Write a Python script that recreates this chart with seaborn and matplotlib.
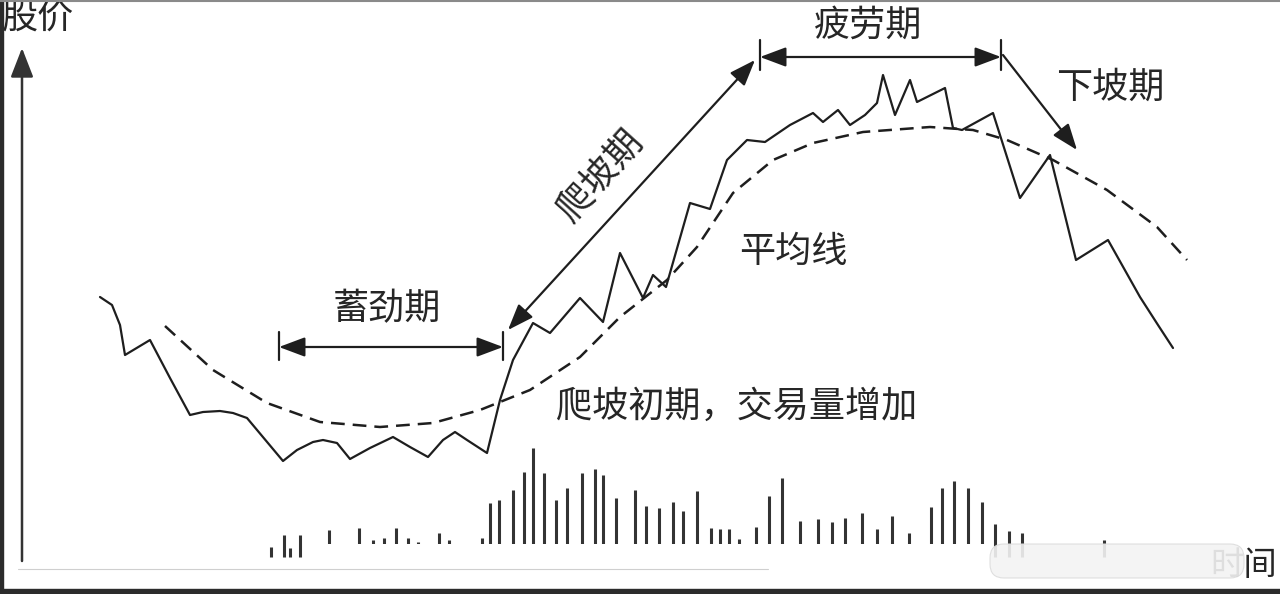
import matplotlib.pyplot as plt
import seaborn as sns
from matplotlib.patches import FancyBboxPatch

# price path (time, price)
time = [100, 112, 120, 125, 150, 170, 190, 203, 220, 233, 247, 283, 297, 313,
        323, 337, 350, 370, 393, 410, 428, 443, 455, 467, 487, 500, 513, 533,
        550, 580, 603, 620, 643, 653, 666, 690, 710, 727, 747, 765, 790, 813,
        823, 838, 850, 865, 877, 883, 895, 910, 917, 945, 953, 962, 993, 1020,
        1050, 1076, 1108, 1140, 1158, 1173]
price = [297, 289, 269, 239, 254, 216, 179, 182, 183, 181, 176, 133, 144, 152,
         154, 151, 135, 146, 157, 147, 137, 154, 162, 154, 141, 194, 234, 271,
         261, 296, 272, 341, 296, 319, 307, 391, 385, 434, 454, 452, 469, 481,
         472, 484, 469, 479, 491, 519, 479, 514, 492, 506, 466, 464, 481, 396,
         439, 334, 354, 297, 269, 246]

# moving average (dashed)
ma_time = [165, 213, 267, 320, 380, 433, 480, 530, 580, 620, 667, 697, 733,
           773, 813, 863, 930, 973, 1007, 1053, 1107, 1157, 1187]
ma_price = [268, 224, 191, 172, 167, 171, 184, 204, 237, 277, 314, 347, 401,
            434, 451, 462, 467, 464, 454, 434, 404, 367, 334]

# trading volume bars
vol_time = [271, 284, 290, 300, 329, 359, 373, 384, 396, 408, 418, 439, 449,
            482, 490, 499, 513, 524, 533, 544, 556, 567, 582, 595, 603, 616,
            635, 646, 659, 673, 683, 697, 711, 720, 729, 739, 756, 769, 782,
            800, 818, 832, 845, 862, 877, 892, 909, 931, 942, 954, 968, 982,
            995, 1009, 1022, 1104]
volume = [10, 22, 9, 22, 27, 29, 17, 19, 29, 19, 15, 24, 17,
          19, 54, 57, 67, 85, 109, 84, 57, 69, 84, 88, 82, 59,
          67, 51, 49, 55, 46, 66, 29, 28, 28, 18, 30, 61, 79,
          36, 38, 35, 39, 44, 28, 41, 24, 50, 69, 76, 69, 55,
          33, 26, 24, 17]
VOL_BASE = 37

INK = "#1e1e1e"
TXT = "#262626"
FS = 26

sns.set_theme(style="white")
plt.rcParams["font.family"] = ["Noto Sans CJK SC", "DejaVu Sans"]

fig = plt.figure(figsize=(12.8, 5.94), dpi=100)
ax = fig.add_axes([0, 0, 1, 1])
ax.set_xlim(0, 1280)
ax.set_ylim(0, 594)
ax.axis("off")

sns.lineplot(x=time, y=price, sort=False, estimator=None, color=INK,
             linewidth=1.6, ax=ax)
sns.lineplot(x=ma_time, y=ma_price, sort=False, estimator=None, color=INK,
             linewidth=1.8, ax=ax)
ax.lines[-1].set_linestyle((0, (5.5, 3.2)))

ax.vlines(vol_time, VOL_BASE, [VOL_BASE + v for v in volume], color="#333333",
          linewidth=2.2)

# white strip and watermark at the bottom
ax.add_patch(plt.Rectangle((305, 36), 680, 14.5, facecolor="white",
                           edgecolor="none", zorder=3))
ax.plot([18, 768], [25, 25], color="#cfcfcf", linewidth=0.8)
ax.text(1277, 29, "时间", fontsize=24, color=TXT, ha="right", va="center",
        zorder=2)
ax.add_patch(FancyBboxPatch((990, 16), 254, 34,
                            boxstyle="round,pad=0,rounding_size=14",
                            facecolor="#f3f3f3", edgecolor="#dcdcdc",
                            alpha=0.9, linewidth=0.8, zorder=4))

# price axis
ax.annotate("", xy=(22, 546), xytext=(22, 33),
            arrowprops=dict(arrowstyle="-|>,head_length=0.9,head_width=0.35",
                            mutation_scale=20, color="#333333", lw=1.8,
                            shrinkA=0, shrinkB=0))
ax.text(38, 576, "股价", fontsize=FS, color=TXT, ha="center", va="center")

arrow_kw = dict(arrowstyle="<|-|>,head_length=0.8,head_width=0.3",
                mutation_scale=20, color=INK, lw=1.6, shrinkA=0, shrinkB=0)

# 蓄劲期
ax.annotate("", xy=(279, 247), xytext=(503, 247), arrowprops=arrow_kw)
ax.plot([279, 279], [234, 262], color=INK, linewidth=1.6)
ax.plot([503, 503], [234, 262], color=INK, linewidth=1.6)
ax.text(387, 285, "蓄劲期", fontsize=FS, color=TXT, ha="center", va="center")

# 爬坡期
ax.annotate("", xy=(508, 264), xytext=(755, 534), arrowprops=arrow_kw)
ax.text(600, 418, "爬坡期", fontsize=FS, color=TXT, ha="center", va="center",
        rotation=48)

# 疲劳期
ax.annotate("", xy=(760, 537), xytext=(1001, 537), arrowprops=arrow_kw)
ax.plot([760, 760], [524, 554], color=INK, linewidth=1.6)
ax.plot([1001, 1001], [524, 554], color=INK, linewidth=1.6)
ax.text(868, 568, "疲劳期", fontsize=FS, color=TXT, ha="center", va="center")

# 下坡期
ax.annotate("", xy=(1077, 444), xytext=(1003, 539),
            arrowprops=dict(arrowstyle="-|>,head_length=0.8,head_width=0.3",
                            mutation_scale=20, color=INK, lw=1.6,
                            shrinkA=0, shrinkB=0))
ax.text(1110, 506, "下坡期", fontsize=FS, color=TXT, ha="center", va="center")

ax.text(793, 342, "平均线", fontsize=FS, color=TXT, ha="center", va="center")
ax.text(737, 187, "爬坡初期，交易量增加", fontsize=FS, color=TXT, ha="center",
        va="center")

# picture frame
ax.axvspan(0, 3, color="#2b2b2b", zorder=5)
ax.axhspan(0, 5, color="#2b2b2b", zorder=5)
ax.axhline(593, color="#8a8a8a", linewidth=1.5, zorder=5)

fig.savefig("out.png", dpi=100)
